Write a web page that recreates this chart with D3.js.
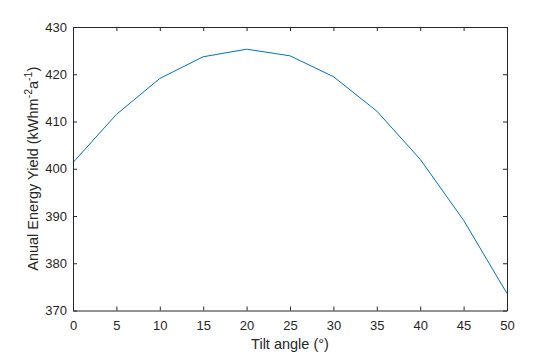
<!DOCTYPE html>
<html><head><meta charset="utf-8">
<script src="https://cdn.jsdelivr.net/npm/d3@7"></script>
<style>body{margin:0;background:#fff}svg{display:block}text{font-family:"Liberation Sans",Arial,sans-serif}</style>
</head><body>
<svg id="c" width="560" height="353"></svg>
<script>
const tilt = [0, 5, 10, 15, 20, 25, 30, 35, 40, 45, 50];
const yieldVals = [401.3, 411.5, 419.1, 423.7, 425.3, 423.9, 419.5, 412.2, 402.0, 389.1, 373.6];
const xTicks = [0, 5, 10, 15, 20, 25, 30, 35, 40, 45, 50];
const yTicks = [370, 380, 390, 400, 410, 420, 430];

const svg = d3.select("#c");
const L = 73, R = 507, T = 27, B = 310.5;
const x = d3.scaleLinear().domain([0, 50]).range([L, R]);
const y = d3.scaleLinear().domain([370, 430]).range([B, T]);
const ax = "#262626";

svg.append("path")
  .datum(tilt.map((t, i) => [t, yieldVals[i]]))
  .attr("fill", "none").attr("stroke", "#0072BD").attr("stroke-width", 1)
  .attr("d", d3.line().x(d => x(d[0])).y(d => y(d[1])));

function styleAxis(g, labels) {
  g.select(".domain").attr("stroke", ax);
  g.selectAll(".tick line").attr("stroke", ax);
  g.selectAll(".tick text").attr("fill", ax).style("font-size", labels ? "13px" : "0px");
}
svg.append("g").attr("transform", `translate(0,${B})`)
  .call(d3.axisBottom(x).tickValues(xTicks).tickSizeInner(-4).tickSizeOuter(0).tickPadding(10))
  .call(g => styleAxis(g, true));
svg.append("g").attr("transform", `translate(0,${T})`)
  .call(d3.axisTop(x).tickValues(xTicks).tickSizeInner(-4).tickSizeOuter(0).tickFormat(""))
  .call(g => styleAxis(g, false));
svg.append("g").attr("transform", `translate(${L},0)`)
  .call(d3.axisLeft(y).tickValues(yTicks).tickSizeInner(-4).tickSizeOuter(0).tickPadding(6))
  .call(g => styleAxis(g, true));
svg.append("g").attr("transform", `translate(${R},0)`)
  .call(d3.axisRight(y).tickValues(yTicks).tickSizeInner(-4).tickSizeOuter(0).tickFormat(""))
  .call(g => styleAxis(g, false));
svg.selectAll(".domain").attr("stroke-width", 1);

svg.append("text").attr("x", (L + R) / 2).attr("y", 349).attr("text-anchor", "middle")
  .attr("fill", ax).style("font-size", "14.5px").text("Tilt angle (°)");

const yl = svg.append("text").attr("transform", `translate(38,${(T + B) / 2}) rotate(-90)`)
  .attr("text-anchor", "middle").attr("fill", ax).style("font-size", "14.5px");
yl.append("tspan").text("Anual Energy Yield (kWhm");
yl.append("tspan").attr("dy", -6).style("font-size", "10.5px").text("-2");
yl.append("tspan").attr("dy", 6).text("a");
yl.append("tspan").attr("dy", -6).style("font-size", "10.5px").text("-1");
yl.append("tspan").attr("dy", 6).text(")");
</script>
</body></html>
